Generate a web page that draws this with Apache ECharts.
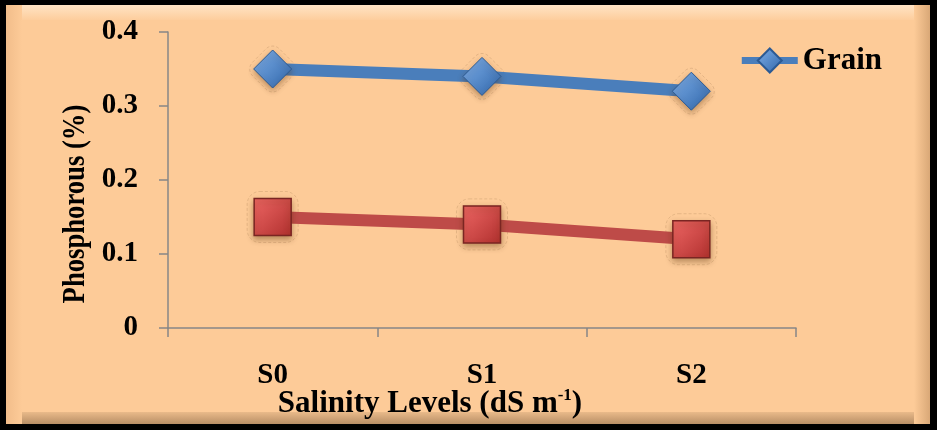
<!DOCTYPE html>
<html>
<head>
<meta charset="utf-8">
<script src="https://cdn.jsdelivr.net/npm/echarts@6/dist/echarts.min.js"></script>
<style>
  html, body { margin: 0; padding: 0; background: #000; }
  #chart { width: 937px; height: 430px; }
</style>
</head>
<body>
<div id="chart"></div>
<script>
// Salinity levels on the category axis
const categories = ['S0', 'S1', 'S2'];
// Phosphorous content (%) per plant part
const grainValues = [0.35, 0.34, 0.32];
const strawValues = [0.15, 0.14, 0.12];
// Value axis ticks
const yTicks = [0, 0.1, 0.2, 0.3, 0.4];

const FONT = '"Liberation Serif", "Times New Roman", serif';
const PEACH = '#FDCB98';

const chart = echarts.init(document.getElementById('chart'), null, { renderer: 'canvas' });

function grad(top, bottom) {
  return new echarts.graphic.LinearGradient(0, 0, 1, 1, [
    { offset: 0, color: top },
    { offset: 1, color: bottom }
  ]);
}

// faint dashed halo drawn around each marker
function halo(values, size, rotate) {
  return {
    name: 'halo',
    type: 'scatter',
    data: values,
    silent: true,
    symbol: 'roundRect',
    symbolSize: size,
    symbolRotate: rotate,
    itemStyle: {
      color: 'rgba(0,0,0,0)',
      borderColor: 'rgba(160,120,80,0.4)',
      borderWidth: 0.8,
      borderType: [3, 2]
    },
    z: 1
  };
}

const option = {
  backgroundColor: '#000',
  animation: false,
  graphic: [
    // outer beveled frame
    { type: 'rect', z: -10, silent: true,
      shape: { x: 6, y: 5, width: 924, height: 419 },
      style: { fill: new echarts.graphic.LinearGradient(0, 0, 0, 1, [
        { offset: 0, color: '#FFE3C4' }, { offset: 0.04, color: PEACH },
        { offset: 0.96, color: PEACH }, { offset: 1, color: '#B88F66' }]) } },
    { type: 'rect', z: -9, silent: true,
      shape: { x: 6, y: 5, width: 16, height: 419 },
      style: { fill: new echarts.graphic.LinearGradient(0, 0, 1, 0, [
        { offset: 0, color: '#F2BD8A' }, { offset: 1, color: PEACH }]) } },
    { type: 'rect', z: -9, silent: true,
      shape: { x: 914, y: 5, width: 16, height: 419 },
      style: { fill: new echarts.graphic.LinearGradient(0, 0, 1, 0, [
        { offset: 0, color: PEACH }, { offset: 1, color: '#D9A877' }]) } },
    { type: 'rect', z: -8, silent: true,
      shape: { x: 22, y: 20, width: 892, height: 392 },
      style: { fill: PEACH } },
    // y-axis title
    { type: 'text', z: 10, silent: true,
      x: 76, y: 204, rotation: Math.PI / 2, scaleX: 0.86,
      style: {
        text: 'Phosphorous (%)',
        align: 'center', verticalAlign: 'middle',
        fontFamily: FONT, fontWeight: 'bold', fontSize: 31, fill: '#000'
      } },
    // x-axis title with superscript
    { type: 'text', z: 10, silent: true,
      x: 430, y: 404,
      style: {
        text: '{t|Salinity Levels (dS m}{s|-1}{t|)}',
        align: 'center', verticalAlign: 'middle',
        rich: {
          t: { fontFamily: FONT, fontWeight: 'bold', fontSize: 31, fill: '#000' },
          s: { fontFamily: FONT, fontWeight: 'bold', fontSize: 17, fill: '#000', padding: [0, 0, 16, 0] }
        }
      } }
  ],
  legend: {
    data: ['Grain'],
    right: 50, top: 40,
    itemWidth: 56, itemHeight: 30,
    itemGap: 3,
    lineStyle: { width: 7 },
    textStyle: { fontFamily: FONT, fontWeight: 'bold', fontSize: 31, color: '#000' }
  },
  grid: { left: 168, top: 32, right: 141, bottom: 102, containLabel: false },
  xAxis: {
    type: 'category',
    data: categories,
    boundaryGap: true,
    axisLine: { lineStyle: { color: '#878787', width: 1.5 } },
    axisTick: { show: true, length: 9, alignWithLabel: false, lineStyle: { color: '#878787', width: 1.5 } },
    axisLabel: { margin: 33, fontFamily: FONT, fontWeight: 'bold', fontSize: 29, color: '#000' }
  },
  yAxis: {
    type: 'value',
    min: 0, max: 0.4, interval: 0.1,
    splitLine: { show: false },
    axisLine: { show: true, lineStyle: { color: '#878787', width: 1.5 } },
    axisTick: { show: true, length: 9, lineStyle: { color: '#878787', width: 1.5 } },
    axisLabel: {
      margin: 30, fontFamily: FONT, fontWeight: 'bold', fontSize: 29, color: '#000',
      formatter: v => {
        const t = yTicks.find(k => Math.abs(k - v) < 1e-9);
        return t === 0 ? '0' : String(t);
      }
    }
  },
  series: [
    halo(grainValues, 38, 45),
    halo(strawValues, 51, 0),
    {
      name: 'Grain',
      type: 'line',
      data: grainValues,
      symbol: 'diamond',
      symbolSize: [38, 38],
      lineStyle: { color: '#4A7EBB', width: 12 },
      itemStyle: {
        color: grad('#7FB0EA', '#2E64A8'),
        borderColor: '#2B5A94', borderWidth: 1,
        shadowColor: 'rgba(90,50,10,0.4)', shadowBlur: 6, shadowOffsetY: 3
      },
      z: 3
    },
    {
      name: 'Straw',
      type: 'line',
      data: strawValues,
      symbol: 'rect',
      symbolSize: [37, 37],
      lineStyle: { color: '#BE4B48', width: 12 },
      itemStyle: {
        color: grad('#EE6664', '#B0302E'),
        borderColor: '#7A2522', borderWidth: 1.5,
        shadowColor: 'rgba(90,50,10,0.4)', shadowBlur: 6, shadowOffsetY: 3
      },
      z: 2
    }
  ]
};

chart.setOption(option);
</script>
</body>
</html>
